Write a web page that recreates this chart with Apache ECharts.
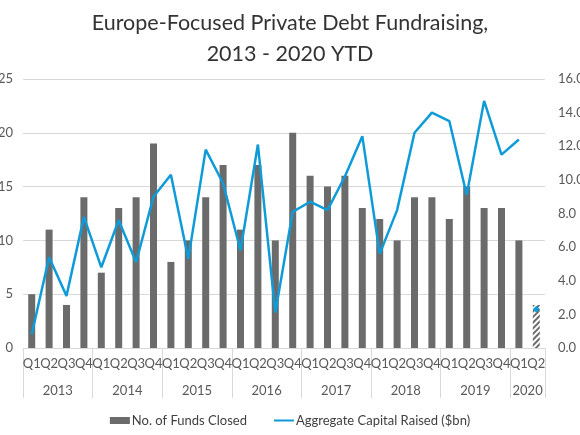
<!DOCTYPE html>
<html>
<head>
<meta charset="utf-8">
<script src="https://cdn.jsdelivr.net/npm/echarts@6/dist/echarts.min.js"></script>
<style>
  html, body { margin: 0; padding: 0; background: #fff; }
  #chart { width: 580px; height: 435px; }
</style>
</head>
<body>
<div id="chart"></div>
<script>
const quarters = ['Q1', 'Q2', 'Q3', 'Q4', 'Q1', 'Q2', 'Q3', 'Q4', 'Q1', 'Q2', 'Q3', 'Q4', 'Q1', 'Q2', 'Q3', 'Q4',
  'Q1', 'Q2', 'Q3', 'Q4', 'Q1', 'Q2', 'Q3', 'Q4', 'Q1', 'Q2', 'Q3', 'Q4', 'Q1', 'Q2'];
const years = ['2013', '2014', '2015', '2016', '2017', '2018', '2019', '2020'];
const quartersPerYear = [4, 4, 4, 4, 4, 4, 4, 2];

// no. of funds closed (last one is 2020 Q2 YTD, hatched)
const fundsClosed = [5, 11, 4, 14, 7, 13, 14, 19, 8, 10, 14, 17, 11, 17, 10, 20,
  16, 15, 16, 13, 12, 10, 14, 14, 12, 15, 13, 13, 10, 4];
// aggregate capital raised ($bn), line stops at 2020 Q1
const capitalRaised = [0.8, 5.4, 3.1, 7.8, 4.8, 7.6, 5.1, 9.0, 10.3, 5.3, 11.8, 9.8, 5.8, 12.1, 2.1, 8.1,
  8.7, 8.2, 10.2, 12.6, 5.6, 8.2, 12.8, 14.0, 13.5, 9.1, 14.7, 11.5, 12.4, '-'];
// 2020 Q2 YTD shown as lone marker
const capitalYTD = 2.3;

const leftTicks = { min: 0, max: 25, interval: 5 };
const rightTicks = { min: 0, max: 16, interval: 2 };

// build year row: label sits on the category just left of the year's middle
const yearRow = [];
const yearStarts = [];
let pos = 0;
years.forEach((y, i) => {
  yearStarts.push(pos);
  for (let k = 0; k < quartersPerYear[i]; k++) {
    yearRow.push(k === quartersPerYear[i] / 2 - 1 ? y : '');
  }
  pos += quartersPerYear[i];
});

const gridW = 580 - 23 - 35;
const band = gridW / quarters.length;

const barData = fundsClosed.map((v, i) => {
  if (i === fundsClosed.length - 1) {
    return {
      value: v,
      itemStyle: {
        color: '#ffffff',
        decal: {
          symbol: 'rect',
          symbolSize: 1,
          color: '#6b6b6b',
          dashArrayX: [1, 0],
          dashArrayY: [2, 2],
          rotation: -Math.PI / 4
        }
      }
    };
  }
  return v;
});

const ytdData = quarters.map((q, i) => (i === quarters.length - 1 ? capitalYTD : '-'));

const chart = echarts.init(document.getElementById('chart'));
const option = {
  animation: false,
  textStyle: { fontFamily: 'Lato' },
  title: {
    text: 'Europe-Focused Private Debt Fundraising,\n2013 - 2020 YTD',
    left: 'center',
    top: 3,
    textStyle: { fontFamily: 'Lato', fontSize: 21.5, fontWeight: 'normal', color: '#333333', lineHeight: 31 }
  },
  legend: {
    top: 409,
    left: 'center',
    itemGap: 26,
    itemWidth: 20,
    itemHeight: 7,
    textStyle: { fontSize: 13, color: '#404040', padding: [0, 0, 0, -3] },
    data: [
      { name: 'No. of Funds Closed', icon: 'rect' },
      { name: 'Aggregate Capital Raised ($bn)', itemStyle: { opacity: 0 } }
    ]
  },
  grid: { left: 23, right: 35, top: 79, bottom: 87, outerBoundsMode: 'none' },
  xAxis: [
    {
      type: 'category',
      data: quarters,
      axisLine: { lineStyle: { color: '#d9d9d9' } },
      axisTick: { show: false },
      axisLabel: { interval: 0, margin: 9, fontSize: 13, color: '#595959' }
    },
    {
      type: 'category',
      position: 'bottom',
      data: yearRow,
      axisLine: { show: false },
      axisTick: {
        show: true,
        length: 50,
        interval: (i) => yearStarts.indexOf(i) >= 0,
        lineStyle: { color: '#d9d9d9' }
      },
      axisLabel: {
        interval: (i, v) => v !== '',
        margin: 36,
        fontSize: 13,
        color: '#595959',
        padding: [0, 0, 0, band]
      }
    }
  ],
  yAxis: [
    {
      type: 'value',
      min: leftTicks.min,
      max: leftTicks.max,
      interval: leftTicks.interval,
      axisLine: { show: false },
      axisTick: { show: false },
      axisLabel: { margin: 10, fontSize: 13, color: '#595959' },
      splitLine: { lineStyle: { color: '#d9d9d9' } }
    },
    {
      type: 'value',
      min: rightTicks.min,
      max: rightTicks.max,
      interval: rightTicks.interval,
      axisLine: { show: false },
      axisTick: { show: false },
      axisLabel: { margin: 13, fontSize: 13, color: '#595959', formatter: v => v.toFixed(1) },
      splitLine: { show: false }
    }
  ],
  series: [
    {
      name: 'No. of Funds Closed',
      type: 'bar',
      xAxisIndex: 0,
      yAxisIndex: 0,
      barWidth: 7,
      itemStyle: { color: '#6b6b6b' },
      data: barData
    },
    {
      name: 'Aggregate Capital Raised ($bn)',
      type: 'line',
      xAxisIndex: 0,
      yAxisIndex: 1,
      symbol: 'none',
      lineStyle: { color: '#0f9bd7', width: 2.5 },
      itemStyle: { color: '#0f9bd7' },
      data: capitalRaised
    },
    {
      name: 'YTD',
      type: 'line',
      xAxisIndex: 0,
      yAxisIndex: 1,
      symbol: 'diamond',
      symbolSize: 7,
      showSymbol: true,
      lineStyle: { width: 0 },
      itemStyle: { color: '#0f9bd7' },
      data: ytdData
    }
  ]
};
chart.setOption(option);
</script>
</body>
</html>
